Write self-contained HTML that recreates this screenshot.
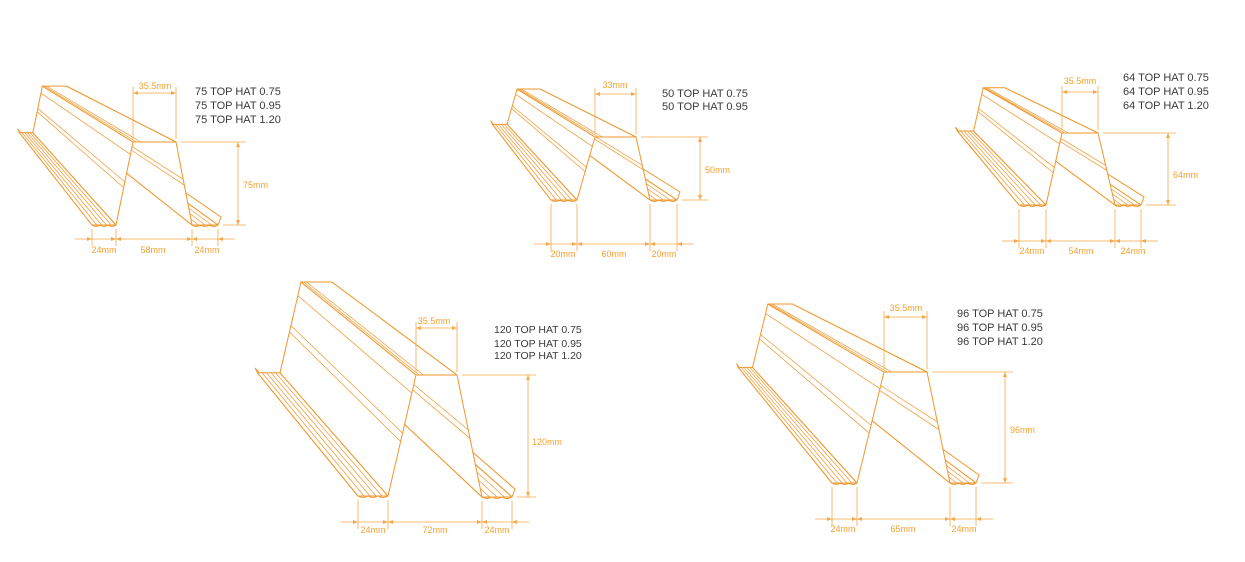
<!DOCTYPE html>
<html><head><meta charset="utf-8"><style>
html,body{margin:0;padding:0;background:#fff;}
svg{display:block}
.n{font-family:"Liberation Sans",sans-serif;font-size:11px;fill:#3a3a3a}
.d{font-family:"Liberation Sans",sans-serif;font-size:9px;fill:#f5a030}
</style></head><body>
<svg id="s" width="1245" height="562" viewBox="0 0 1245 562" xmlns="http://www.w3.org/2000/svg">
<g id="g"></g>
<text class="n" x="195" y="95">75 TOP HAT 0.75</text>
<text class="n" x="195" y="109">75 TOP HAT 0.95</text>
<text class="n" x="195" y="123">75 TOP HAT 1.20</text>
<text class="n" x="662" y="97">50 TOP HAT 0.75</text>
<text class="n" x="662" y="110">50 TOP HAT 0.95</text>
<text class="n" x="1123" y="81">64 TOP HAT 0.75</text>
<text class="n" x="1123" y="95">64 TOP HAT 0.95</text>
<text class="n" x="1123" y="109">64 TOP HAT 1.20</text>
<text class="n" x="494" y="333" style="font-size:10.5px">120 TOP HAT 0.75</text>
<text class="n" x="494" y="347" style="font-size:10.5px">120 TOP HAT 0.95</text>
<text class="n" x="494" y="359" style="font-size:10.5px">120 TOP HAT 1.20</text>
<text class="n" x="957" y="317">96 TOP HAT 0.75</text>
<text class="n" x="957" y="331">96 TOP HAT 0.95</text>
<text class="n" x="957" y="345">96 TOP HAT 1.20</text>

<g text-anchor="middle">
<text class="d" x="155" y="89">35.5mm</text>
<text class="d" x="104" y="253">24mm</text>
<text class="d" x="153" y="253">58mm</text>
<text class="d" x="207" y="253">24mm</text>
<text class="d" x="615" y="88">33mm</text>
<text class="d" x="563" y="257">20mm</text>
<text class="d" x="614" y="257">60mm</text>
<text class="d" x="664" y="257">20mm</text>
<text class="d" x="1080" y="84">35.5mm</text>
<text class="d" x="1032" y="254">24mm</text>
<text class="d" x="1081" y="254">54mm</text>
<text class="d" x="1133" y="254">24mm</text>
<text class="d" x="434" y="324">35.5mm</text>
<text class="d" x="373" y="533">24mm</text>
<text class="d" x="435" y="533">72mm</text>
<text class="d" x="497" y="533">24mm</text>
<text class="d" x="906" y="311">35.5mm</text>
<text class="d" x="843" y="532">24mm</text>
<text class="d" x="903" y="532">65mm</text>
<text class="d" x="964" y="532">24mm</text>
</g>
<text class="d" x="243" y="188">75mm</text>
<text class="d" x="705" y="173">50mm</text>
<text class="d" x="1173" y="178">64mm</text>
<text class="d" x="532" y="445">120mm</text>
<text class="d" x="1010" y="433">96mm</text>
</svg>
<script>
var NS="http://www.w3.org/2000/svg",G=document.getElementById("g");
var OR="#f0962a",DC="#f7a84a";
function el(t,a){var e=document.createElementNS(NS,t);for(var k in a)e.setAttribute(k,a[k]);G.appendChild(e);return e;}
function line(a,b,c,w){el("line",{x1:a[0],y1:a[1],x2:b[0],y2:b[1],stroke:c||OR,"stroke-width":w||1});}
function tri(tip,dx,dy,c){var px=-dy,py=dx;el("polygon",{points:[tip[0],tip[1],tip[0]-dx*5+px*2,tip[1]-dy*5+py*2,tip[0]-dx*5-px*2,tip[1]-dy*5-py*2].join(" "),fill:c||DC});}
var P=[
{A:[92,225],B:[116,225],C:[133,142],D:[176,142],E:[192,225],F:[218,225],vp:[-73,15],s:0.56,ty:93,hx:238,by:239},
{A:[551,200],B:[577,200],C:[595,137],D:[636,137],E:[650,200],F:[677,200],vp:[418,28],s:0.56,ty:94,hx:700,by:244},
{A:[1019,205],B:[1046,205],C:[1062,133],D:[1098,133],E:[1115,205],F:[1141,205],vp:[865,20],s:0.6,ty:92,hx:1168,by:241},
{A:[358,496],B:[388,496],C:[416,375],D:[457,375],E:[482,497],F:[512,497],vp:[-44,3],s:0.75,ty:328,hx:528,by:522},
{A:[832,483],B:[857,483],C:[884,372],D:[927,372],E:[950,483],F:[976,483],vp:[614,214],s:0.57,ty:317,hx:1005,by:519}
];
function lerp(a,b,t){return [a[0]+(b[0]-a[0])*t,a[1]+(b[1]-a[1])*t];}
P.forEach(function(p){
 var bk=function(q){return [p.vp[0]+p.s*(q[0]-p.vp[0]),p.vp[1]+p.s*(q[1]-p.vp[1])];};
 var L0=[p.A[0]-3,p.A[1]-6],R0=[p.F[0]+3,p.F[1]-8];
 var pts=[L0,p.A,p.B,p.C,p.D,p.E,p.F,R0];
 var order=[[6,[]],[5,[0.25,0.5,0.75]],[4,[0.45,0.52]],[0,[]],[1,[0.2,0.4,0.6,0.8]],[2,[0.45,0.52,0.85]],[3,[0.08,0.18]]];
 order.forEach(function(o){
  var i=o[0],f1=pts[i],f2=pts[i+1],b1=bk(f1),b2=bk(f2);
  el("polygon",{points:[f1,f2,b2,b1].map(function(q){return q.join(",");}).join(" "),fill:"#fff",stroke:OR,"stroke-width":1,"stroke-linejoin":"round"});
  o[1].forEach(function(t){line(lerp(f1,f2,t),lerp(b1,b2,t),OR,0.7);});
 });
 [[p.A,p.B],[p.E,p.F]].forEach(function(s){
  var d="M"+s[0][0]+","+s[0][1];var w=(s[1][0]-s[0][0])/3;
  for(var k=0;k<3;k++){var x=s[0][0]+w*k;d+=" Q"+(x+w/2)+","+(s[0][1]+3)+" "+(x+w)+","+s[0][1];}
  el("path",{d:d,fill:"none",stroke:OR,"stroke-width":1});
 });
 line([p.C[0],p.C[1]-3],[p.C[0],p.ty-6],DC,0.8);
 line([p.D[0],p.D[1]-3],[p.D[0],p.ty-6],DC,0.8);
 line([p.C[0],p.ty],[p.D[0],p.ty],DC,0.8);
 tri([p.C[0],p.ty],-1,0);tri([p.D[0],p.ty],1,0);
 line([p.D[0]+5,p.D[1]],[p.hx+8,p.D[1]],DC,0.8);
 line([p.F[0]+5,p.F[1]],[p.hx+8,p.F[1]],DC,0.8);
 line([p.hx,p.D[1]],[p.hx,p.F[1]],DC,0.8);
 tri([p.hx,p.D[1]],0,-1);tri([p.hx,p.F[1]],0,1);
 [p.A,p.B,p.E,p.F].forEach(function(q){line([q[0],q[1]+4],[q[0],p.by+7],DC,0.8);});
 line([p.A[0]-17,p.by],[p.F[0]+17,p.by],DC,0.8);
 tri([p.A[0],p.by],1,0);tri([p.B[0],p.by],-1,0);tri([p.B[0],p.by],1,0);
 tri([p.E[0],p.by],-1,0);tri([p.E[0],p.by],1,0);tri([p.F[0],p.by],-1,0);
});
</script>
</body></html>
